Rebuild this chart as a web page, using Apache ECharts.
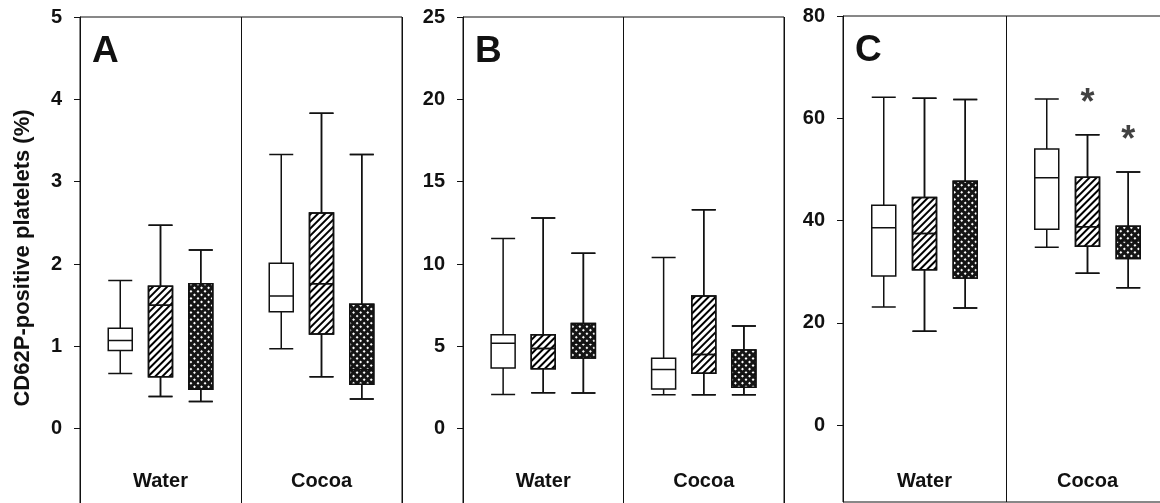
<!DOCTYPE html>
<html>
<head>
<meta charset="utf-8">
<script src="https://cdn.jsdelivr.net/npm/echarts@6/dist/echarts.min.js"></script>
<style>
html,body{margin:0;padding:0;background:#fff;}
#chart{width:1160px;height:503px;}
</style>
</head>
<body>
<div id="chart"></div>
<script>
// ---------- data ----------
const groups = ['Water', 'Cocoa'];
const panelLetters = ['A', 'B', 'C'];
const yAxisTitle = 'CD62P-positive platelets (%)';

const yTicksA = [0, 1, 2, 3, 4, 5];
const yTicksB = [0, 5, 10, 15, 20, 25];
const yTicksC = [0, 20, 40, 60, 80];

// each box: [lower whisker, Q1, median, Q3, upper whisker]; rows = Water, Cocoa
const A_plain   = [[0.67, 0.95, 1.07, 1.22, 1.80], [0.97, 1.42, 1.61, 2.01, 3.33]];
const A_hatched = [[0.39, 0.63, 1.50, 1.73, 2.47], [0.63, 1.15, 1.76, 2.62, 3.83]];
const A_cross   = [[0.33, 0.48, 1.47, 1.76, 2.17], [0.36, 0.54, 0.72, 1.51, 3.33]];

const B_plain   = [[2.08, 3.68, 5.18, 5.70, 11.55], [2.06, 2.41, 3.60, 4.27, 10.40]];
const B_hatched = [[2.18, 3.64, 4.87, 5.70, 12.80], [2.06, 3.36, 4.51, 8.05, 13.30]];
const B_cross   = [[2.16, 4.29, 5.20, 6.39, 10.65], [2.06, 2.51, 3.30, 4.77, 6.23]];

const C_plain   = [[23.1, 29.2, 38.6, 43.0, 64.1], [34.8, 38.3, 48.4, 54.0, 63.8]];
const C_hatched = [[18.4, 30.4, 37.5, 44.5, 63.9], [29.7, 35.0, 38.8, 48.5, 56.8]];
const C_cross   = [[22.9, 28.8, 36.9, 47.7, 63.7], [26.9, 32.6, 36.0, 38.9, 49.5]];

// significance markers (Water, Cocoa) per pattern, panel C only
const C_sig_plain   = [false, false];
const C_sig_hatched = [false, true];
const C_sig_cross   = [false, true];

// ---------- layout / styling ----------
const FONT = "'Liberation Sans', Arial, Helvetica, sans-serif";
const INK = '#111';
const panels = [
  { letter: panelLetters[0], min: -1, max: 5, ticks: yTicksA, stats: [A_plain, A_hatched, A_cross], sig: null,
    grid: { left: 80, top: 17, width: 322, height: 494 }, labelMargin: 20 },
  { letter: panelLetters[1], min: -5, max: 25, ticks: yTicksB, stats: [B_plain, B_hatched, B_cross], sig: null,
    grid: { left: 463, top: 17, width: 321, height: 494 }, labelMargin: 20 },
  { letter: panelLetters[2], min: -15, max: 80, ticks: yTicksC, stats: [C_plain, C_hatched, C_cross],
    sig: [C_sig_plain, C_sig_hatched, C_sig_cross],
    grid: { left: 843, top: 16, width: 326, height: 486 }, labelMargin: 11 }
];

const patternStyles = [
  { color: '#fff' },
  { color: '#fff', decal: { symbol: 'rect', symbolSize: 1, color: '#000', dashArrayX: [1, 0], dashArrayY: [1.1, 2.1], rotation: -Math.PI / 4 } },
  { color: '#151515', decal: { symbol: 'rect', symbolSize: 1, color: '#fff', dashArrayX: [1.6, 2.2], dashArrayY: [1.6, 2.2], rotation: Math.PI / 4 } }
];

const SLOTS_PER_GROUP = 4; // 3 boxes + 1 gap slot
const grids = [], xAxes = [], yAxes = [], series = [], titles = [];

panels.forEach((p, pi) => {
  grids.push(Object.assign({ show: true, borderColor: INK, borderWidth: 1, containLabel: false, outerBoundsMode: 'none' }, p.grid));
  titles.push({
    text: p.letter, left: p.grid.left + 12, top: p.grid.top + 16, padding: 0,
    textStyle: { fontFamily: FONT, fontWeight: 'bold', fontSize: 37, color: INK }
  });
  // group label axis (Water / Cocoa) with divider
  xAxes.push({
    type: 'category', gridIndex: pi, data: groups, position: 'bottom',
    axisLine: { show: false }, axisTick: { show: false },
    axisLabel: { inside: true, margin: p.labelMargin, fontFamily: FONT, fontWeight: 'bold', fontSize: 20, color: INK },
    splitLine: { show: true, lineStyle: { color: INK, width: 1 } }
  });
  // hidden slot axes, one per pattern series
  for (let k = 0; k < 3; k++) {
    xAxes.push({ type: 'value', gridIndex: pi, min: 0, max: SLOTS_PER_GROUP * groups.length, show: false });
  }
  yAxes.push({
    type: 'value', gridIndex: pi, min: p.min, max: p.max,
    name: pi === 0 ? yAxisTitle : '', nameLocation: 'middle', nameRotate: 90, nameGap: 46,
    nameTextStyle: { fontFamily: FONT, fontWeight: 'bold', fontSize: 22, color: INK, padding: [0, 0, 0, 12] },
    axisLine: { show: true, lineStyle: { color: INK, width: 1 } },
    axisTick: { show: true, length: 6, customValues: p.ticks, lineStyle: { color: INK, width: 1 } },
    axisLabel: { customValues: p.ticks, margin: 18, fontFamily: FONT, fontWeight: 'bold', fontSize: 20, color: INK },
    splitLine: { show: false }
  });
  const xBase = pi * 4;
  p.stats.forEach((rows, k) => {
    series.push({
      type: 'boxplot', xAxisIndex: xBase + 1 + k, yAxisIndex: pi,
      boxWidth: [24, 24], silent: true,
      itemStyle: Object.assign({ borderColor: INK, borderWidth: 1.5 }, patternStyles[k]),
      data: rows.map((s, g) => [g * SLOTS_PER_GROUP + k + 1].concat(s))
    });
    if (p.sig) {
      const pts = [];
      rows.forEach((s, g) => { if (p.sig[k][g]) pts.push([g * SLOTS_PER_GROUP + k + 1, s[4] + 0.063 * (p.max - p.min)]); });
      if (pts.length) {
        series.push({
          type: 'scatter', xAxisIndex: xBase + 1 + k, yAxisIndex: pi, silent: true,
          symbolSize: 0, data: pts,
          label: { show: true, position: 'inside', formatter: '*', fontFamily: FONT, fontWeight: 'bold', fontSize: 36, color: INK }
        });
      }
    }
  });
});

const chart = echarts.init(document.getElementById('chart'), null, { renderer: 'canvas' });
chart.setOption({
  animation: false,
  backgroundColor: '#fff',
  title: titles,
  grid: grids,
  xAxis: xAxes,
  yAxis: yAxes,
  series: series
});
</script>
</body>
</html>
